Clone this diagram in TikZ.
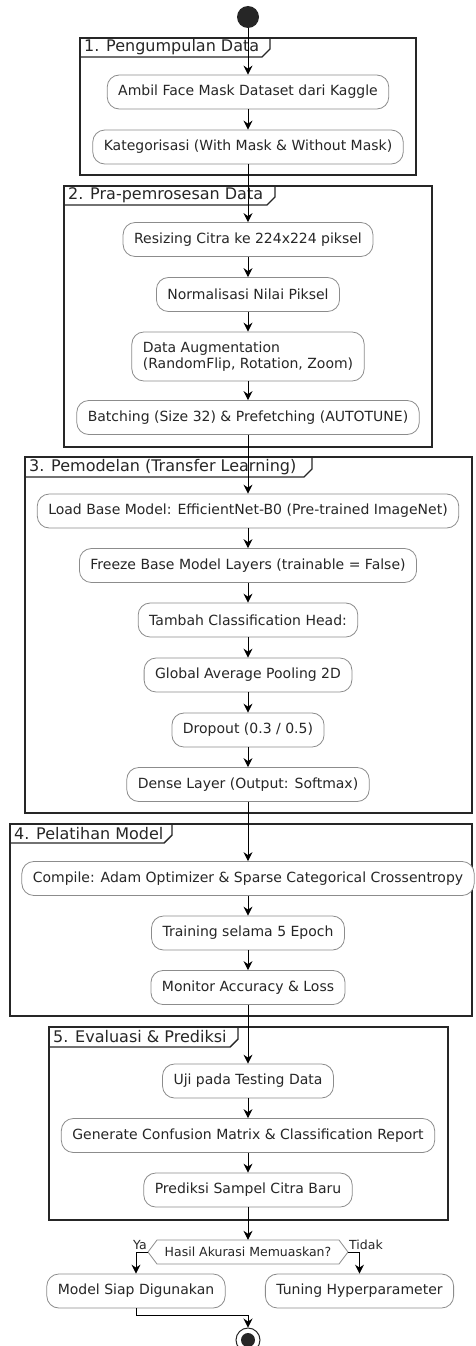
\documentclass[tikz,border=0pt]{standalone}
\usepackage{fontspec}
\setmainfont{DejaVu Sans}
\usetikzlibrary{arrows.meta}
\begin{document}
\begin{tikzpicture}[x=1pt,y=-1pt,
  act/.style={draw=black!45, line width=0.8pt, rounded corners=12pt, fill=white,
    text=black!85, font=\fontsize{14}{16.5}\selectfont, minimum height=34pt,
    inner xsep=11pt, anchor=center},
  flow/.style={-{Stealth[length=9pt,width=9pt,inset=3pt]}, line width=0.9pt, black},
  pkg/.style={draw=black!85, line width=1.4pt},
  pkgtitle/.style={font=\fontsize{16}{18}\selectfont, text=black!85, anchor=west, inner sep=0pt},
  lbl/.style={font=\fontsize{12.5}{14}\selectfont, text=black!85, inner sep=0pt}]
\useasboundingbox (0,0) rectangle (475,1346);

% packages
\draw[pkg] (80,38) rectangle (416,175);
\draw[pkg] (80,57) -- (262,57) -- (270,49) -- (270,38);
\node[pkgtitle] (p1) at (84,47.5) {1. Pengumpulan Data};

\draw[pkg] (64,186) rectangle (432,447);
\draw[pkg] (64,205) -- (267,205) -- (275,197) -- (275,186);
\node[pkgtitle] (p2) at (68,195.5) {2. Pra-pemrosesan Data};

\draw[pkg] (25,457) rectangle (472,813);
\draw[pkg] (25,477) -- (304,477) -- (312,469) -- (312,457);
\node[pkgtitle] (p3) at (29,467) {3. Pemodelan (Transfer Learning)};

\draw[pkg] (10,824) rectangle (472,1016);
\draw[pkg] (10,843) -- (164,843) -- (172,835) -- (172,824);
\node[pkgtitle] (p4) at (14,833.5) {4. Pelatihan Model};

\draw[pkg] (49,1027) rectangle (448,1220);
\draw[pkg] (49,1047) -- (230,1047) -- (238,1039) -- (238,1027);
\node[pkgtitle] (p5) at (53,1037) {5. Evaluasi \& Prediksi};

% start
\node[circle, fill=black!85, minimum size=22pt, inner sep=0pt] (start) at (248,17) {};

% activities
\node[act] (A1) at (248,92) {Ambil Face Mask Dataset dari Kaggle};
\node[act] (A2) at (248,147) {Kategorisasi (With Mask \& Without Mask)};

\node[act] (B1) at (248,239.5) {Resizing Citra ke 224x224 piksel};
\node[act] (B2) at (248,294.5) {Normalisasi Nilai Piksel};
\node[act, align=left, minimum height=49pt] (B3) at (248,356.5) {Data Augmentation\\(RandomFlip, Rotation, Zoom)};
\node[act] (B4) at (248,417.5) {Batching (Size 32) \& Prefetching (AUTOTUNE)};

\node[act] (C1) at (248,511) {Load Base Model: EfficientNet-B0 (Pre-trained ImageNet)};
\node[act] (C2) at (248,565.5) {Freeze Base Model Layers (trainable = False)};
\node[act] (C3) at (248,620) {Tambah Classification Head:};
\node[act] (C4) at (248,675) {Global Average Pooling 2D};
\node[act] (C5) at (248,730) {Dropout (0.3 / 0.5)};
\node[act] (C6) at (248,784.5) {Dense Layer (Output: Softmax)};

\node[act] (D1) at (248,878.5) {Compile: Adam Optimizer \& Sparse Categorical Crossentropy};
\node[act] (D2) at (248,933) {Training selama 5 Epoch};
\node[act] (D3) at (248,987.5) {Monitor Accuracy \& Loss};

\node[act] (E1) at (248,1081) {Uji pada Testing Data};
\node[act] (E2) at (248,1135.5) {Generate Confusion Matrix \& Classification Report};
\node[act] (E3) at (248,1190) {Prediksi Sampel Citra Baru};

% decision
\coordinate (decL) at (148,1252);
\coordinate (decR) at (348,1252);
\draw[draw=black!45, line width=0.8pt, fill=white] (decL) -- (157,1240) -- (339,1240) -- (decR) -- (339,1264) -- (157,1264) -- cycle;
\node[font=\fontsize{12.5}{14}\selectfont, text=black!85, minimum height=24pt, inner sep=0pt] (dec) at (248,1252) {Hasil Akurasi Memuaskan?};
\node[lbl, anchor=base east] (ya) at (147,1249) {Ya};
\node[lbl, anchor=base west] (tidak) at (349,1249) {Tidak};

\node[act] (F1) at (136,1291) {Model Siap Digunakan};
\node[act] (F2) at (359.5,1291) {Tuning Hyperparameter};

% end
\node[circle, draw=black!85, line width=1pt, fill=white, minimum size=24pt, inner sep=0pt] (end) at (248,1340) {};
\fill[black!85] (end.center) circle (7pt);

% connectors
\draw[flow] (start) -- (A1);
\draw[flow] (A1) -- (A2);
\draw[flow] (A2) -- (B1);
\draw[flow] (B1) -- (B2);
\draw[flow] (B2) -- (B3);
\draw[flow] (B3) -- (B4);
\draw[flow] (B4) -- (C1);
\draw[flow] (C1) -- (C2);
\draw[flow] (C2) -- (C3);
\draw[flow] (C3) -- (C4);
\draw[flow] (C4) -- (C5);
\draw[flow] (C5) -- (C6);
\draw[flow] (C6) -- (D1);
\draw[flow] (D1) -- (D2);
\draw[flow] (D2) -- (D3);
\draw[flow] (D3) -- (E1);
\draw[flow] (E1) -- (E2);
\draw[flow] (E2) -- (E3);
\draw[flow] (E3) -- (dec.north);
\draw[flow] (decL) -| (F1);
\draw[flow] (decR) -| (F2);
\draw[flow] (F1.south) -- ++(0,7) -| (end);
\end{tikzpicture}
\end{document}
